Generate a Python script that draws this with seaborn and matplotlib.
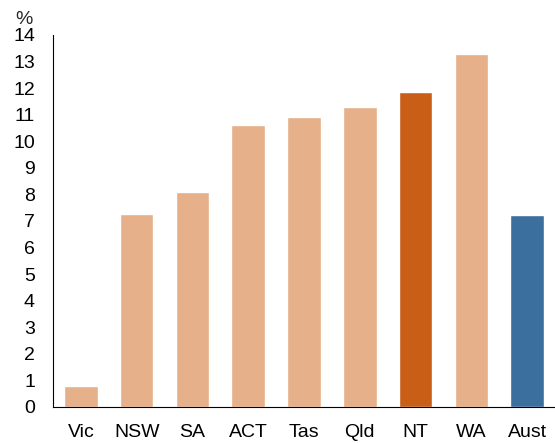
import matplotlib
matplotlib.use("Agg")
import matplotlib.pyplot as plt
import pandas as pd
import seaborn as sns

estados = ["Vic", "NSW", "SA", "ACT", "Tas", "Qld", "NT", "WA", "Aust"]
valores = [0.8, 7.27, 8.1, 10.6, 10.9, 11.3, 11.87, 13.3, 7.24]
cores = ["#E5B08A"] * 6 + ["#C95F17", "#E5B08A", "#3A6F9E"]

df = pd.DataFrame({"estado": estados, "valor": valores})

sns.set_style("white")
plt.rcParams["font.family"] = ["Liberation Sans", "DejaVu Sans"]

fig = plt.figure(figsize=(5.55, 4.43), dpi=100)
ax = fig.add_axes([0.0955, 0.0813, 0.9045, 0.8397])

sns.barplot(data=df, x="estado", y="valor", hue="estado", palette=cores,
            width=0.6, saturation=1, legend=False, ax=ax)

ax.set_ylim(0, 14)
ax.set_xlim(-0.5, 8.5)
ax.set_yticks(range(0, 15))
ax.set_xlabel("")
ax.set_ylabel("")
ax.tick_params(axis="both", length=0, labelsize=14, colors="black")
ax.tick_params(axis="y", pad=13)
ax.tick_params(axis="x", pad=12)
for s in ["top", "right"]:
    ax.spines[s].set_visible(False)
for s in ["left", "bottom"]:
    ax.spines[s].set_color("black")
    ax.spines[s].set_linewidth(0.8)

fig.text(0.027, 0.955, "%", fontsize=14, ha="left", va="center")

fig.savefig("out.png", dpi=100)
